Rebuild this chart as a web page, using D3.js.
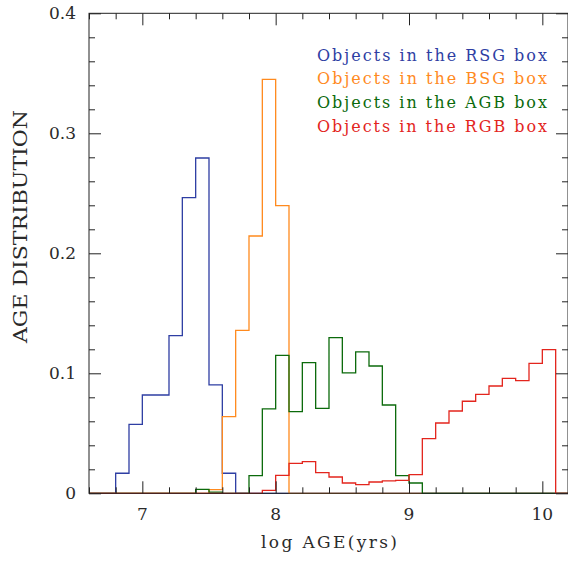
<!DOCTYPE html>
<html><head><meta charset="utf-8">
<script src="https://cdn.jsdelivr.net/npm/d3@7"></script>
<style>body{margin:0;background:#fff}svg{display:block}</style>
</head><body>
<svg id="c" width="568" height="561"></svg>
<script>
// ---- data ----
const binLo = [6.6,6.7,6.8,6.9,7.0,7.1,7.2,7.3,7.4,7.5,7.6,7.7,7.8,7.9,8.0,8.1,8.2,8.3,8.4,8.5,8.6,8.7,8.8,8.9,9.0,9.1,9.2,9.3,9.4,9.5,9.6,9.7,9.8,9.9,10.0,10.1];
const binWidth = 0.1;
const rsgValues = [0,0,0.0167,0.0575,0.0819,0.0819,0.1314,0.2464,0.2794,0.0903,0.0167,0,0,0,0,0,0,0,0,0,0,0,0,0,0,0,0,0,0,0,0,0,0,0,0,0];
const bsgValues = [0,0,0,0,0,0,0,0,0,0.003,0.0639,0.1358,0.2144,0.345,0.2397,0,0,0,0,0,0,0,0,0,0,0,0,0,0,0,0,0,0,0,0,0];
const agbValues = [0,0,0,0,0,0,0,0,0.0033,0.001,0,0,0.0147,0.0703,0.115,0.068,0.1089,0.0708,0.1297,0.1003,0.1178,0.1061,0.0736,0.0147,0.0086,0,0,0,0,0,0,0,0,0,0,0];
const rgbValues = [0,0,0,0,0,0,0,0,0,0,0,0,0,0.0025,0.015,0.025,0.0264,0.0172,0.0136,0.0086,0.0072,0.0094,0.0103,0.0108,0.0156,0.0456,0.0586,0.0686,0.0767,0.0825,0.0894,0.0958,0.0939,0.1083,0.1197,0];
const seriesNames = ["Objects in the RSG box","Objects in the BSG box","Objects in the AGB box","Objects in the RGB box"];
const seriesColors = ["#2e3ea3","#ff8a1e","#0b6a0b","#e3251d"];
const xMajorTicks = [7,8,9,10];
const xMinorTicks = [6.6,6.8,7.2,7.4,7.6,7.8,8.2,8.4,8.6,8.8,9.2,9.4,9.6,9.8,10.2];
const yMajorTicks = [0,0.1,0.2,0.3,0.4];
const yTickLabels = ["0","0.1","0.2","0.3","0.4"];
const yMinorTicks = [0.02,0.04,0.06,0.08,0.12,0.14,0.16,0.18,0.22,0.24,0.26,0.28,0.32,0.34,0.36,0.38];
const xLabel = "log AGE(yrs)";
const yLabel = "AGE DISTRIBUTION";

// ---- layout ----
const L = 89, R = 569, T = 13.3, B = 493.3;
const x = d3.scaleLinear().domain([6.6,10.2]).range([L,R]);
const y = d3.scaleLinear().domain([0,0.4]).range([B,T]);
const svg = d3.select("#c");
const serif = "'DejaVu Serif', 'Liberation Serif', serif";
const axisCol = "#222";
const textCol = "#2a2a2a";

// histograms
const allSeries = [rsgValues,bsgValues,agbValues,rgbValues];
allSeries.forEach((vals,si)=>{
  const pts = [];
  pts.push([x(binLo[0]), y(0)]);
  vals.forEach((v,i)=>{
    pts.push([x(binLo[i]), y(v)]);
    pts.push([x(binLo[i]+binWidth), y(v)]);
  });
  pts.push([x(binLo[binLo.length-1]+binWidth), y(0)]);
  svg.append("path")
    .attr("d", d3.line()(pts))
    .attr("fill","none")
    .attr("stroke", seriesColors[si])
    .attr("stroke-width",1.3)
    .attr("stroke-linejoin","miter");
});

// ticks (inward on all four sides)
function addAxis(axisFn, scale, vals, size, transform){
  const g = svg.append("g").attr("transform",transform)
    .call(axisFn(scale).tickValues(vals).tickSize(size).tickFormat(""));
  g.select(".domain").remove();
  g.selectAll("line").attr("stroke",axisCol).attr("stroke-width",1);
}
addAxis(d3.axisBottom, x, xMajorTicks, -12, `translate(0,${B})`);
addAxis(d3.axisBottom, x, xMinorTicks, -6, `translate(0,${B})`);
addAxis(d3.axisTop, x, xMajorTicks, -12, `translate(0,${T})`);
addAxis(d3.axisTop, x, xMinorTicks, -6, `translate(0,${T})`);
addAxis(d3.axisLeft, y, yMajorTicks, -12, `translate(${L},0)`);
addAxis(d3.axisLeft, y, yMinorTicks, -6, `translate(${L},0)`);
addAxis(d3.axisRight, y, yMajorTicks, -12, `translate(${R-1},0)`);
addAxis(d3.axisRight, y, yMinorTicks, -6, `translate(${R-1},0)`);

// frame
svg.append("rect").attr("x",L).attr("y",T).attr("width",R-1-L).attr("height",B-T)
  .attr("fill","none").attr("stroke",axisCol).attr("stroke-width",1);

// tick labels
svg.selectAll(".xl").data(xMajorTicks).enter().append("text")
  .attr("x",d=>x(d)).attr("y",520).attr("text-anchor","middle")
  .attr("font-family",serif).attr("font-size",17).attr("fill",textCol)
  .text(d=>String(d));
svg.selectAll(".yl").data(yMajorTicks).enter().append("text")
  .attr("x",76).attr("y",d=>y(d)+6).attr("text-anchor","end")
  .attr("font-family",serif).attr("font-size",17).attr("fill",textCol)
  .text((d,i)=>yTickLabels[i]);

// axis titles
svg.append("text").attr("x",(L+R)/2).attr("y",548).attr("text-anchor","middle")
  .attr("font-family",serif).attr("font-size",17).attr("fill",textCol)
  .attr("textLength",136).attr("lengthAdjust","spacing")
  .text(xLabel);
svg.append("text").attr("transform","translate(27,226.5) rotate(-90)")
  .attr("text-anchor","middle")
  .attr("font-family",serif).attr("font-size",18).attr("fill",textCol)
  .attr("textLength",233).attr("lengthAdjust","spacingAndGlyphs")
  .text(yLabel);

// legend
seriesNames.forEach((n,i)=>{
  svg.append("text").attr("x",317).attr("y",60.7+i*23.6)
    .attr("font-family",serif).attr("font-size",16).attr("fill",seriesColors[i])
    .attr("textLength",230).attr("lengthAdjust","spacing")
    .text(n);
});
</script>
</body></html>
